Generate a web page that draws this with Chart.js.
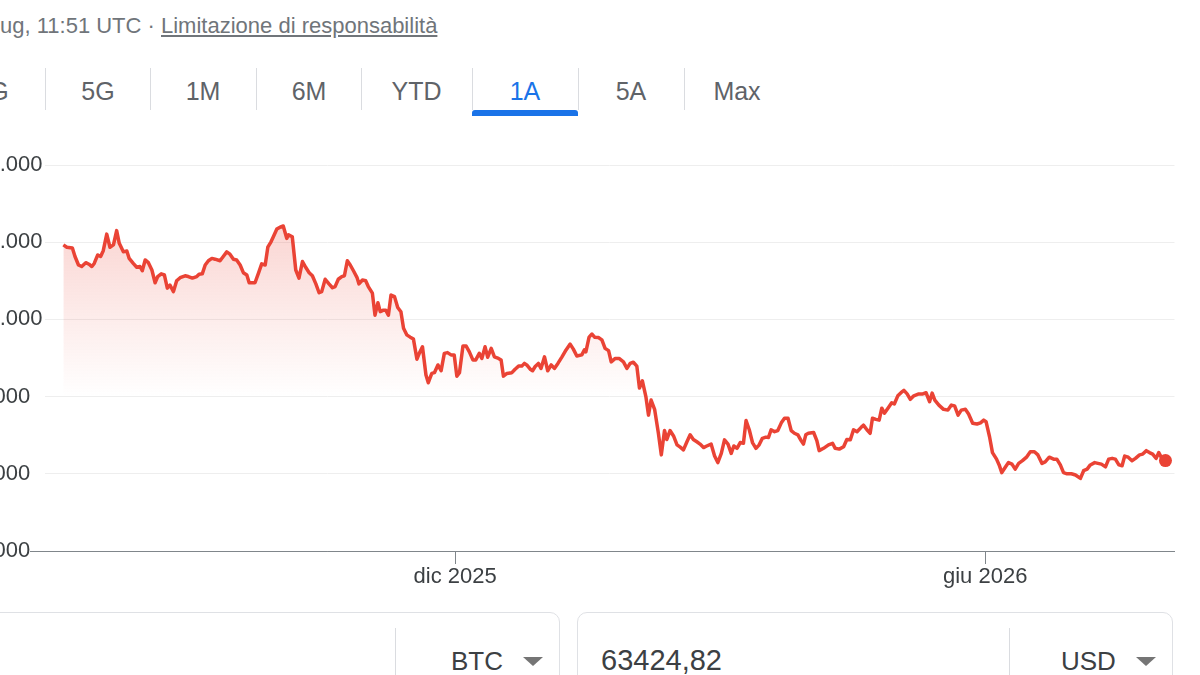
<!DOCTYPE html>
<html lang="it">
<head>
<meta charset="utf-8">
<title>BTC / USD</title>
<script src="https://cdn.jsdelivr.net/npm/chart.js@4.4.1/dist/chart.umd.min.js"></script>
<style>
  html, body { margin: 0; padding: 0; }
  body { width: 1200px; height: 675px; position: relative; overflow: hidden; background: #fff;
         font-family: Arial, "Liberation Sans", sans-serif; }
  .abs { position: absolute; white-space: nowrap; }
  #header { left: 0; top: 14px; font-size: 22px; line-height: 24px; color: #70757a; }
  #header u { text-decoration: underline; }
  .tab { top: 76px; width: 106px; text-align: center; font-size: 25px; line-height: 30px; color: #5f6368; }
  .tab.on { color: #1a73e8; }
  .sep { top: 68px; width: 1px; height: 42px; background: #dadce0; }
  #underline { left: 472px; top: 110px; width: 106px; height: 6px; background: #1a73e8; border-radius: 3px 3px 0 0; }
  #chartBox { position: absolute; left: -37px; top: 130px; width: 1218px; height: 466px; }
  .box { top: 612px; height: 120px; border: 1px solid #dfe1e5; border-radius: 10px; box-sizing: border-box; }
  .div { top: 628px; width: 1px; height: 60px; background: #dadce0; }
  .val { top: 646px; font-size: 26px; line-height: 30px; color: #3c4043; }
  .num { top: 645px; font-size: 29px; }
  .arrow { top: 657px; width: 0; height: 0; border-left: 10px solid transparent;
           border-right: 10px solid transparent; border-top: 9px solid #757575; }
</style>
</head>
<body>
<div id="header" class="abs">ug, 11:51 UTC · <u>Limitazione di responsabilità</u></div>

<div class="abs tab" style="left:-61px">1G</div>
<div class="abs tab" style="left:45px">5G</div>
<div class="abs tab" style="left:150px">1M</div>
<div class="abs tab" style="left:256px">6M</div>
<div class="abs tab" style="left:361px;width:111px">YTD</div>
<div class="abs tab on" style="left:472px">1A</div>
<div class="abs tab" style="left:578px">5A</div>
<div class="abs tab" style="left:684px">Max</div>
<div class="abs sep" style="left:45px"></div>
<div class="abs sep" style="left:150px"></div>
<div class="abs sep" style="left:256px"></div>
<div class="abs sep" style="left:361px"></div>
<div class="abs sep" style="left:472px"></div>
<div class="abs sep" style="left:578px"></div>
<div class="abs sep" style="left:684px"></div>
<div id="underline" class="abs"></div>

<div id="chartBox"><canvas id="chart"></canvas></div>

<div class="abs box" style="left:-20px;width:580px"></div>
<div class="abs div" style="left:395px"></div>
<div class="abs val" style="left:451px">BTC</div>
<div class="abs arrow" style="left:523px"></div>
<div class="abs box" style="left:577px;width:596px"></div>
<div class="abs val num" style="left:601px">63424,82</div>
<div class="abs div" style="left:1009px"></div>
<div class="abs val" style="left:1061px">USD</div>
<div class="abs arrow" style="left:1136px"></div>

<script>
// days counted from the first point of the 1A range
const days = [
  0, 1.2, 3.1, 4.0, 5.2, 6.3, 7.7, 8.8, 9.8, 10.6,
  11.8, 12.8, 13.7, 14.9, 16.0, 17.2, 18.3, 19.2, 20.6, 21.8,
  22.6, 24.0, 25.2, 26.3, 27.1, 28.1, 29.2, 30.4, 31.5, 32.4,
  33.6, 34.7, 35.7, 36.6, 37.8, 38.9, 40.1, 41.8, 42.9, 44.3,
  45.8, 46.6, 47.7, 48.7, 49.8, 51.0, 52.1, 53.8, 54.9, 56.1,
  57.2, 58.4, 59.5, 60.7, 61.8, 63.0, 63.8, 65.8, 67.0, 68.1,
  69.3, 70.2, 71.3, 72.1, 73.3, 74.4, 75.5, 76.7, 77.3, 78.6,
  79.8, 80.9, 82.1, 83.2, 84.4, 85.5, 86.7, 87.8, 88.7, 89.9,
  91.2, 92.4, 93.3, 94.4, 95.6, 96.5, 97.5, 98.5, 99.6, 100.8,
  101.5, 102.7, 103.8, 104.7, 106.1, 107.0, 108.0, 108.8, 109.9, 110.7,
  111.6, 112.5, 113.7, 114.8, 115.9, 116.8, 117.9, 119.1, 120.2, 121.4,
  122.2, 123.3, 124.5, 125.3, 126.5, 127.4, 128.6, 129.7, 130.8, 131.9,
  133.1, 134.2, 135.1, 136.0, 137.2, 138.3, 139.4, 140.6, 141.6, 142.8,
  143.7, 144.8, 145.7, 146.9, 148.0, 149.4, 150.3, 151.1, 152.3, 154.0,
  155.1, 156.3, 157.4, 158.3, 159.1, 160.3, 161.1, 162.0, 163.1, 164.0,
  165.2, 166.3, 167.5, 168.6, 169.8, 171.2, 172.6, 174.0, 175.1, 176.3,
  178.0, 178.9, 179.4, 180.5, 181.5, 182.4, 183.7, 184.9, 186.0, 187.2,
  188.1, 189.5, 190.8, 192.3, 193.5, 194.6, 195.7, 196.9, 197.8, 198.8,
  200.0, 200.9, 201.8, 203.0, 204.3, 205.3, 206.4, 207.2, 208.3, 209.5,
  210.7, 211.8, 212.9, 214.1, 215.2, 216.3, 217.5, 218.6, 219.8, 220.9,
  222.4, 223.6, 224.7, 225.9, 227.0, 228.2, 229.3, 230.2, 231.3, 232.4,
  233.5, 234.4, 235.5, 236.6, 237.8, 238.9, 240.0, 241.2, 242.1, 243.0,
  244.2, 245.3, 246.5, 247.6, 248.8, 249.9, 251.0, 252.2, 253.3, 254.1,
  254.9, 255.8, 257.6, 258.7, 259.5, 261.0, 262.7, 264.1, 265.0, 266.4,
  267.9, 269.0, 270.2, 271.3, 272.5, 274.0, 274.7, 275.9, 277.0, 277.8,
  279.0, 280.1, 281.0, 281.9, 283.3, 284.4, 285.3, 286.5, 287.6, 288.6,
  289.7, 290.8, 292.0, 293.7, 295.1, 296.2, 297.4, 298.3, 299.2, 300.6,
  302.2, 303.7, 304.9, 306.0, 307.2, 308.3, 309.7, 310.8, 312.2, 313.7,
  314.9, 316.0, 316.8, 318.0, 319.0, 320.4, 321.3, 322.2, 323.4, 324.5,
  325.7, 326.8, 328.0, 329.3, 330.8, 332.0, 333.4, 334.6, 336.0, 337.1,
  338.5, 340.0, 341.1, 342.3, 343.4, 344.6, 346.1, 347.5, 349.2, 350.3,
  351.5, 352.6, 354.1, 355.2, 356.4, 357.8, 358.9, 360.1, 361.2, 362.4,
  363.5, 364.4, 365.6, 366.9, 368.1, 369.5, 370.6, 371.8, 372.9, 374.0,
  375.2, 376.1, 377.3, 378.4
];

// BTC price in thousands of USD
const pricesK = [
  119.3, 118.7, 118.5, 116.3, 114.1, 113.7, 114.7, 114.3, 113.7, 114.5,
  116.7, 116.3, 117.8, 122.1, 118.7, 119.3, 123.0, 119.7, 117.5, 117.7,
  115.8, 114.5, 113.5, 113.7, 112.6, 115.4, 114.7, 112.8, 109.5, 111.1,
  111.8, 111.5, 108.1, 108.9, 107.2, 110.0, 110.8, 111.3, 111.1, 110.7,
  111.1, 111.7, 111.8, 114.1, 115.2, 115.8, 115.6, 115.2, 116.3, 117.5,
  116.9, 115.6, 115.4, 114.1, 112.1, 111.5, 109.5, 109.5, 112.0, 114.4,
  114.1, 118.7, 120.1, 121.4, 123.4, 123.9, 124.2, 121.0, 121.9, 121.4,
  112.8, 110.7, 115.0, 113.5, 112.1, 111.3, 109.2, 106.9, 107.2, 110.4,
  109.2, 108.2, 108.5, 110.4, 111.1, 111.3, 115.2, 114.1, 112.6, 110.9,
  109.2, 110.2, 110.0, 108.5, 106.8, 101.1, 104.3, 102.0, 102.4, 102.4,
  101.1, 106.3, 105.9, 103.1, 102.0, 97.7, 96.0, 95.4, 94.9, 89.7,
  91.2, 92.9, 85.6, 83.6, 86.0, 86.2, 88.2, 86.7, 91.2, 91.4,
  90.8, 90.8, 85.3, 86.2, 93.1, 93.1, 91.6, 89.5, 89.5, 91.2,
  89.9, 92.9, 90.2, 92.5, 90.3, 89.9, 89.5, 85.3, 86.0, 86.2,
  87.1, 87.9, 87.9, 88.6, 88.2, 87.1, 86.7, 87.8, 88.6, 87.3,
  90.3, 86.7, 88.2, 87.3, 88.6, 90.3, 92.1, 93.6, 92.3, 90.5,
  90.8, 92.1, 91.6, 95.4, 96.2, 95.4, 95.3, 94.7, 92.5, 91.9,
  89.0, 89.9, 89.9, 89.0, 87.3, 88.6, 88.9, 87.9, 82.2, 84.1,
  80.0, 75.2, 79.1, 76.7, 70.5, 64.9, 71.2, 68.9, 71.2, 69.8,
  67.5, 66.9, 66.2, 68.3, 70.1, 68.9, 68.3, 67.7, 66.8, 67.2,
  67.7, 64.6, 62.9, 65.3, 68.8, 67.7, 65.3, 67.2, 66.6, 68.1,
  67.9, 73.8, 71.4, 68.1, 66.6, 67.5, 69.2, 69.5, 69.4, 71.4,
  70.9, 71.2, 73.2, 74.4, 74.4, 71.2, 70.5, 70.1, 68.6, 67.7,
  70.1, 70.5, 70.7, 68.6, 66.0, 66.6, 67.5, 67.9, 66.6, 66.4,
  67.0, 68.9, 68.8, 71.4, 70.9, 72.1, 72.6, 71.4, 70.5, 74.4,
  74.1, 73.9, 77.0, 75.7, 77.2, 78.4, 78.1, 80.2, 81.0, 81.6,
  80.7, 79.3, 80.2, 80.7, 80.7, 81.0, 78.7, 80.9, 79.1, 77.8,
  76.7, 76.5, 77.8, 77.6, 75.2, 76.5, 76.7, 75.5, 73.1, 72.9,
  73.2, 73.9, 73.5, 69.6, 65.5, 63.8, 62.3, 60.3, 61.7, 62.9,
  62.5, 61.2, 62.7, 63.4, 64.4, 65.7, 65.7, 64.9, 62.7, 63.1,
  64.3, 63.8, 63.8, 62.3, 60.3, 60.0, 60.0, 59.7, 58.8, 60.8,
  61.2, 62.3, 62.9, 62.7, 62.5, 61.8, 63.8, 64.0, 63.8, 62.3,
  62.1, 64.6, 64.3, 63.4, 64.0, 64.9, 65.1, 66.0, 65.5, 65.1,
  64.0, 65.5, 63.8, 63.42482
];

const yTicks = [40, 60, 80, 100, 120, 140];
const yTickLabels = ['40.000', '60.000', '80.000', '100.000', '120.000', '140.000'];
const xTickDays = [134.5, 316.5];
const xTickLabels = ['dic 2025', 'giu 2026'];

const RED = '#ea4335';
const AXIS = '#80868b';
const TEXT = '#3c4043';

Chart.defaults.font.family = 'Arial, "Liberation Sans", sans-serif';

function fillGradient(context) {
  const chart = context.chart;
  const area = chart.chartArea;
  if (!area) return 'rgba(234,67,53,0)';
  const y = chart.scales.y;
  const g = chart.ctx.createLinearGradient(0, y.getPixelForValue(124), 0, y.getPixelForValue(80));
  g.addColorStop(0, 'rgba(234,67,53,0.22)');
  g.addColorStop(1, 'rgba(234,67,53,0)');
  return g;
}

const lastIndex = days.length - 1;

new Chart(document.getElementById('chart'), {
  type: 'line',
  data: {
    datasets: [{
      data: days.map((d, i) => ({ x: d, y: pricesK[i] })),
      borderColor: RED,
      borderWidth: 3.5,
      borderJoinStyle: 'round',
      tension: 0,
      fill: 'start',
      backgroundColor: fillGradient,
      pointRadius: (ctx) => ctx.dataIndex === lastIndex ? 6.5 : 0,
      pointBackgroundColor: RED,
      pointBorderWidth: 0,
      pointHoverRadius: 0
    }]
  },
  options: {
    responsive: true,
    maintainAspectRatio: false,
    animation: false,
    layout: { padding: { top: 35, right: 0, bottom: 0, left: 0 } },
    plugins: {
      legend: { display: false },
      tooltip: { enabled: false }
    },
    scales: {
      x: {
        type: 'linear',
        min: -6.3,
        max: 381.5,
        afterBuildTicks: (scale) => { scale.ticks = xTickDays.map(v => ({ value: v })); },
        afterFit: (scale) => { scale.height = 45; },
        ticks: {
          callback: (v) => xTickLabels[xTickDays.indexOf(v)],
          autoSkip: false,
          maxRotation: 0,
          padding: 0,
          color: TEXT,
          font: { size: 22 }
        },
        grid: {
          drawOnChartArea: false,
          drawTicks: true,
          tickLength: 13,
          tickColor: AXIS
        },
        border: { display: true, color: AXIS, width: 1 }
      },
      y: {
        min: 40,
        max: 140,
        afterBuildTicks: (scale) => { scale.ticks = yTicks.map(v => ({ value: v })); },
        afterFit: (scale) => { scale.width = 82; },
        ticks: {
          callback: (v) => yTickLabels[yTicks.indexOf(v)],
          crossAlign: 'far',
          color: TEXT,
          font: { size: 22 }
        },
        grid: {
          color: (ctx) => ctx.tick && ctx.tick.value === 40 ? AXIS : '#eeeeee',
          tickColor: (ctx) => ctx.tick && ctx.tick.value === 40 ? AXIS : 'rgba(0,0,0,0)',
          drawTicks: true,
          tickLength: 15
        },
        border: { display: false }
      }
    }
  }
});
</script>
</body>
</html>
